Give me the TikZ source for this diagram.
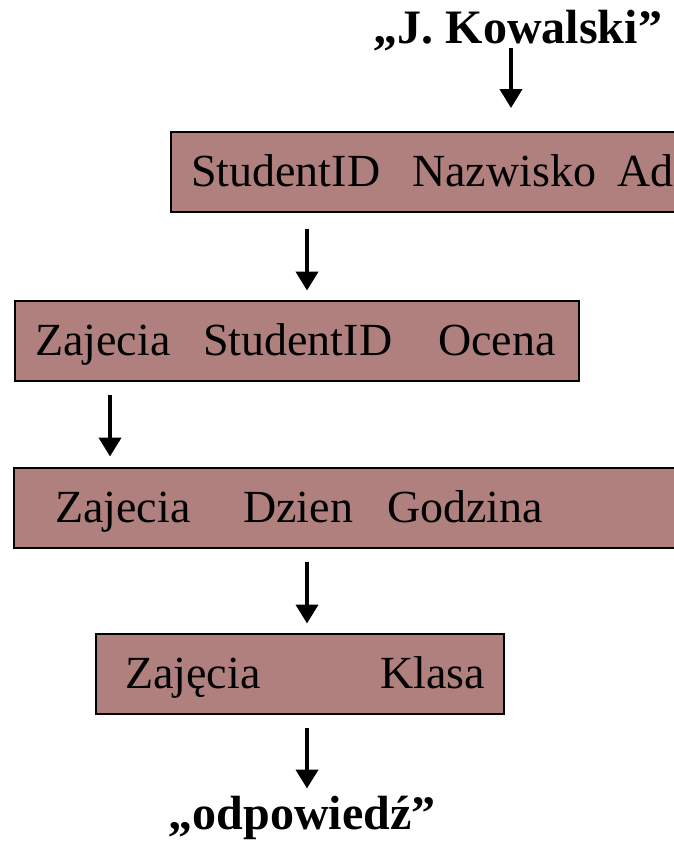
\documentclass[tikz,border=0pt]{standalone}
\usepackage{fontspec}
\setmainfont{Liberation Serif}
\usetikzlibrary{arrows.meta}
\definecolor{boxfill}{RGB}{176,128,126}
\begin{document}
\begin{tikzpicture}[x=1pt,y=-1pt,
  box/.style={draw=black, line width=1.5pt, fill=boxfill, rectangle, inner sep=0pt, anchor=north west, minimum height=80pt},
  word/.style={anchor=base west, inner sep=0pt, font=\fontsize{46}{52}\selectfont},
  ttl/.style={anchor=base, inner sep=0pt, font=\fontsize{48}{54}\selectfont\bfseries},
  arr/.style={line width=4.2pt, -{Triangle[width=22pt,length=19pt]}}]
\useasboundingbox (0,0) rectangle (674,846);
\clip (0,0) rectangle (674,846);
% boxes
\node[box, minimum width=540pt] (b1) at (170,131) {};
\node[box, minimum width=564pt] (b2) at (14,300) {};
\node[box, minimum width=690pt] (b3) at (13,467) {};
\node[box, minimum width=408pt] (b4) at (95,633) {};
% titles
\node[ttl] (t1) at (518,43) {„J. Kowalski”};
\node[ttl] (t2) at (302,829) {„odpowiedź”};
% box texts
\node[word] (w11) at (191,186) {StudentID};
\node[word] (w12) at (412,186) {Nazwisko};
\node[word] (w13) at (617,186) {Ad};
\node[word] (w21) at (35,355) {Zajecia};
\node[word] (w22) at (203,355) {StudentID};
\node[word] (w23) at (438,355) {Ocena};
\node[word] (w31) at (55,522) {Zajecia};
\node[word] (w32) at (243,522) {Dzien};
\node[word] (w33) at (387,522) {Godzina};
\node[word] (w41) at (125,688) {Zajęcia};
\node[word] (w42) at (380,688) {Klasa};
% arrows
\draw[arr] (b1.north -| 511,0) ++(0,-83) -- ++(0,60);
\draw[arr] (b1.south -| 307,0) ++(0,16) -- ++(0,62);
\draw[arr] (b2.south -| 110,0) ++(0,13) -- ++(0,62);
\draw[arr] (b3.south -| 307,0) ++(0,13) -- ++(0,62);
\draw[arr] (b4.south -| 307,0) ++(0,13) -- ++(0,61);
\end{tikzpicture}
\end{document}
